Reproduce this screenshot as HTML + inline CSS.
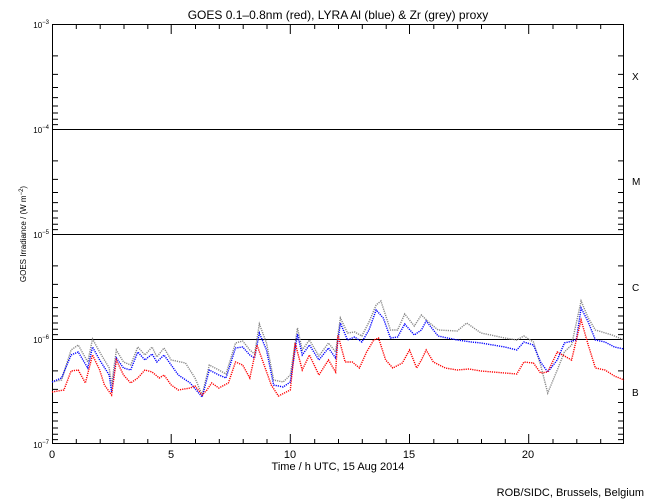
<!DOCTYPE html>
<html><head><style>
body{margin:0;background:#fff}
svg{display:block;font-family:"Liberation Sans",sans-serif}
</style></head><body>
<svg width="650" height="500" viewBox="0 0 650 500">
<rect width="650" height="500" fill="#fff"/>
<text x="338" y="19" font-size="12" text-anchor="middle">GOES 0.1–0.8nm (red), LYRA Al (blue) &amp; Zr (grey) proxy</text>
<g stroke="#000" stroke-width="1" fill="none">
<rect x="52.5" y="24.5" width="571" height="419"/>
<line x1="52" y1="129.5" x2="624" y2="129.5"/>
<line x1="52" y1="234.5" x2="624" y2="234.5"/>
<line x1="52" y1="339.5" x2="624" y2="339.5"/>
<path id="yt" d="
M52 55.9h6 M52 74.4h6 M52 87.5h6 M52 97.6h6 M52 106h6 M52 113h6 M52 119.2h6 M52 124.6h6
M52 160.9h6 M52 179.4h6 M52 192.5h6 M52 202.6h6 M52 211h6 M52 218h6 M52 224.2h6 M52 229.6h6
M52 265.9h6 M52 284.4h6 M52 297.5h6 M52 307.6h6 M52 316h6 M52 323h6 M52 329.2h6 M52 334.6h6
M52 370.9h6 M52 389.4h6 M52 402.5h6 M52 412.6h6 M52 421h6 M52 428h6 M52 434.2h6 M52 439.6h6
M624 55.9h-6 M624 74.4h-6 M624 87.5h-6 M624 97.6h-6 M624 106h-6 M624 113h-6 M624 119.2h-6 M624 124.6h-6
M624 160.9h-6 M624 179.4h-6 M624 192.5h-6 M624 202.6h-6 M624 211h-6 M624 218h-6 M624 224.2h-6 M624 229.6h-6
M624 265.9h-6 M624 284.4h-6 M624 297.5h-6 M624 307.6h-6 M624 316h-6 M624 323h-6 M624 329.2h-6 M624 334.6h-6
M624 370.9h-6 M624 389.4h-6 M624 402.5h-6 M624 412.6h-6 M624 421h-6 M624 428h-6 M624 434.2h-6 M624 439.6h-6"/>
<path d="
M76.3 444v-5M100.2 444v-5M124 444v-5M147.8 444v-5M171.2 444v-10M195.5 444v-5M219.3 444v-5M243.2 444v-5M267 444v-5M290.3 444v-10M314.7 444v-5M338.5 444v-5M362.3 444v-5M386.2 444v-5M409.5 444v-10M433.8 444v-5M457.7 444v-5M481.5 444v-5M505.3 444v-5M528.7 444v-10M553 444v-5M576.8 444v-5M600.7 444v-5
M76.3 24v5M100.2 24v5M124 24v5M147.8 24v5M171.2 24v10M195.5 24v5M219.3 24v5M243.2 24v5M267 24v5M290.3 24v10M314.7 24v5M338.5 24v5M362.3 24v5M386.2 24v5M409.5 24v10M433.8 24v5M457.7 24v5M481.5 24v5M505.3 24v5M528.7 24v10M553 24v5M576.8 24v5M600.7 24v5"/>
</g>
<g font-size="8" text-anchor="end">
<text x="49" y="28">10<tspan dy="-4" font-size="6">−3</tspan></text>
<text x="49" y="133">10<tspan dy="-4" font-size="6">−4</tspan></text>
<text x="49" y="238">10<tspan dy="-4" font-size="6">−5</tspan></text>
<text x="49" y="343">10<tspan dy="-4" font-size="6">−6</tspan></text>
<text x="49" y="448">10<tspan dy="-4" font-size="6">−7</tspan></text>
</g>
<g font-size="10">
<text x="632" y="80">X</text><text x="632" y="185">M</text><text x="632" y="291">C</text><text x="632" y="396">B</text>
</g>
<text transform="translate(26,234) rotate(-90)" font-size="8" text-anchor="middle">GOES Irradiance / (W m<tspan dy="-3" font-size="6">−2</tspan><tspan dy="3">)</tspan></text>
<g font-size="11" text-anchor="middle">
<text x="52" y="458">0</text><text x="171" y="458">5</text><text x="290" y="458">10</text><text x="409" y="458">15</text><text x="528" y="458">20</text>
</g>
<text x="338" y="470" font-size="11" text-anchor="middle">Time / h UTC, 15 Aug 2014</text>
<text x="644" y="496" font-size="11" text-anchor="end">ROB/SIDC, Brussels, Belgium</text>
<g transform="translate(52,0) scale(23.833,1)" fill="none" stroke-width="1.4" stroke-dasharray="1.2 1" >
<polyline vector-effect="non-scaling-stroke" stroke="#888" points="0,382 0.4,380 0.8,350 1.1,345 1.5,362 1.7,339 2.0,352 2.4,368 2.5,385 2.7,350 3.0,362 3.3,365 3.6,347 3.9,355 4.2,347 4.4,357 4.7,348 5.0,360 5.6,363 6.0,378 6.3,395 6.6,365 7.0,370 7.3,374 7.7,343 8.0,341 8.3,350 8.5,354 8.7,324 9.0,343 9.3,380 9.7,382 10.0,375 10.3,328 10.5,350 10.8,340 11.2,356 11.6,343 11.9,352 12.1,318 12.4,333 12.7,332 13.0,336 13.3,322 13.6,305 13.8,301 14.2,330 14.5,330 14.8,314 15.2,326 15.5,315 15.8,322 16.2,330 17.0,331 17.4,323 18,333 19,338 19.5,340 19.8,336 20.2,342 20.5,365 20.8,393 21.2,370 21.5,352 21.8,345 22.2,301 22.5,318 22.8,330 23.5,335 24,340"/>
<polyline vector-effect="non-scaling-stroke" stroke="#00f" points="0,382 0.4,378 0.8,355 1.1,352 1.5,368 1.7,347 2.0,360 2.4,375 2.5,392 2.7,358 3.0,368 3.3,370 3.6,352 3.9,360 4.2,354 4.4,362 4.7,355 5.0,365 5.3,375 5.8,383 6.3,397 6.6,370 7.0,375 7.3,378 7.7,348 8.0,347 8.3,355 8.5,358 8.7,333 9.0,350 9.3,385 9.7,387 10.0,382 10.3,334 10.5,355 10.8,345 11.2,360 11.6,348 11.9,358 12.1,323 12.4,340 12.7,337 13.0,342 13.3,330 13.6,310 13.9,318 14.2,338 14.5,337 14.8,324 15.2,335 15.5,330 15.7,321 16.2,336 16.6,338 17.0,340 17.6,342 18.0,343 18.5,345 19.0,347 19.5,350 19.8,342 20.2,345 20.5,362 20.8,372 21.2,360 21.5,343 22.0,340 22.2,308 22.5,322 22.8,340 23.2,342 23.6,347 24,349"/>
<polyline vector-effect="non-scaling-stroke" stroke="#f00" points="0,392 0.5,390 0.8,371 1.1,370 1.4,383 1.7,355 2.0,370 2.2,385 2.5,395 2.7,360 3.0,375 3.3,383 3.6,378 3.9,370 4.2,372 4.5,378 4.7,375 5.0,385 5.3,390 5.8,388 6.0,386 6.3,395 6.5,390 6.7,383 7.0,388 7.4,383 7.7,362 8.0,365 8.3,378 8.6,345 8.9,365 9.2,385 9.5,396 10.0,390 10.2,343 10.5,370 10.8,355 11.2,375 11.6,360 11.9,372 12.0,335 12.3,362 12.6,362 12.9,368 13.2,352 13.5,340 13.7,338 14.0,360 14.3,368 14.7,363 15.0,350 15.3,368 15.5,360 15.7,350 16.0,362 16.5,368 17.0,370 17.5,369 18.0,371 18.5,372 19.0,373 19.5,374 19.8,362 20.2,363 20.5,373 20.8,372 21.2,352 21.8,360 22.0,340 22.2,320 22.5,345 22.8,368 23.2,370 23.6,376 24,380"/>
</g>
</svg>
</body></html>
